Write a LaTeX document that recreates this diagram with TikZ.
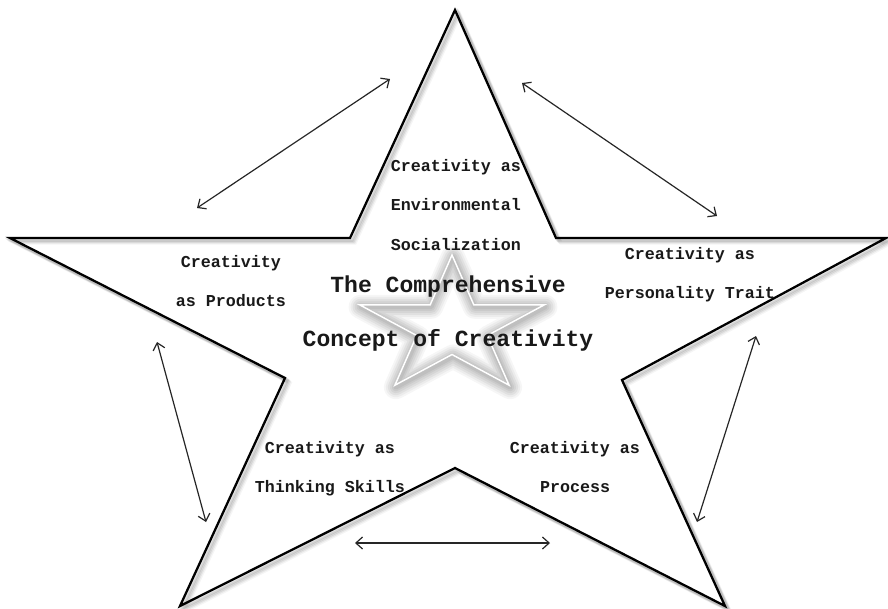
\documentclass[tikz,border=0pt]{standalone}
\usepackage{fontspec}
\setmonofont{Liberation Mono}
\usetikzlibrary{arrows.meta}
\begin{document}
\begin{tikzpicture}[x=0.75pt,y=-0.75pt,
  lbl/.style={font=\ttfamily\bfseries\fontsize{12.5}{29.5}\selectfont,align=center,inner sep=0pt,text=black!90},
  ttl/.style={font=\ttfamily\bfseries\fontsize{17.3}{40.5}\selectfont,align=center,inner sep=0pt,text=black!90},
  dbl/.style={{Straight Barb[length=5pt,width=9pt]}-{Straight Barb[length=5pt,width=9pt]}, line width=0.9pt, black!85},
  starline/.style={line width=1.7pt, line join=miter, black}]
\useasboundingbox (0,0) rectangle (888,608);
\fill[white] (0,0) rectangle (888,608);
% main star shadow
\foreach \o/\op in {5/0.04,4/0.06,3/0.08,2/0.1}{
  \draw[line width=2.6pt, black, opacity=\op, line join=miter, shift={(\o,\o)}]
    (455,10) -- (350,238) -- (10,238) -- (285,378) -- (180,606) -- (455,468)
    -- (725,606) -- (622,380) -- (886,238) -- (556,238) -- cycle;
}
% main star
\draw[starline] (455,10) -- (350,238) -- (10,238) -- (285,378) -- (180,606) -- (455,468)
    -- (725,606) -- (622,380) -- (886,238) -- (556,238) -- cycle;
% centre glowing star
\foreach \w/\op in {18pt/0.07,15pt/0.08,12pt/0.1,9pt/0.11,6pt/0.12,3.5pt/0.14}{
  \draw[gray, line width=\w, opacity=\op, line join=round, shift={(1,2)}]
    (452,255) -- (473.8,304.8) -- (544.4,304.8) -- (487.3,335.5) -- (509.1,385.2)
    -- (452,354.5) -- (394.9,385.2) -- (416.7,335.5) -- (359.6,304.8) -- (430.2,304.8) -- cycle;
}
\draw[white, line width=1.1pt, line join=miter]
    (452,255) -- (473.8,304.8) -- (544.4,304.8) -- (487.3,335.5) -- (509.1,385.2)
    -- (452,354.5) -- (394.9,385.2) -- (416.7,335.5) -- (359.6,304.8) -- (430.2,304.8) -- cycle;
% labels
\node[lbl] (env) at (456,205) {Creativity as\\Environmental\\Socialization};
\node[lbl] (prod) at (231,281) {Creativity\\as Products};
\node[lbl] (pers) at (690,275) {Creativity as\\Personality Trait};
\node[lbl] (think) at (330,469) {Creativity as\\Thinking Skills};
\node[lbl] (proc) at (575,467) {Creativity as\\Process};
\node[ttl] (title) at (448,314) {The Comprehensive\\Concept of Creativity};
% arrows
\coordinate (a1s) at (197,208); \coordinate (a1e) at (390,79);
\coordinate (a2s) at (522,83);  \coordinate (a2e) at (717,216);
\coordinate (a3s) at (157,342); \coordinate (a3e) at (206,522);
\coordinate (a4s) at (355,543); \coordinate (a4e) at (550,543);
\coordinate (a5s) at (756,336); \coordinate (a5e) at (697,522);
\draw[dbl] (a1s) -- (a1e);
\draw[dbl] (a2s) -- (a2e);
\draw[dbl] (a3s) -- (a3e);
\draw[dbl] (a4s) -- (a4e);
\draw[dbl] (a5s) -- (a5e);
\end{tikzpicture}
\end{document}
